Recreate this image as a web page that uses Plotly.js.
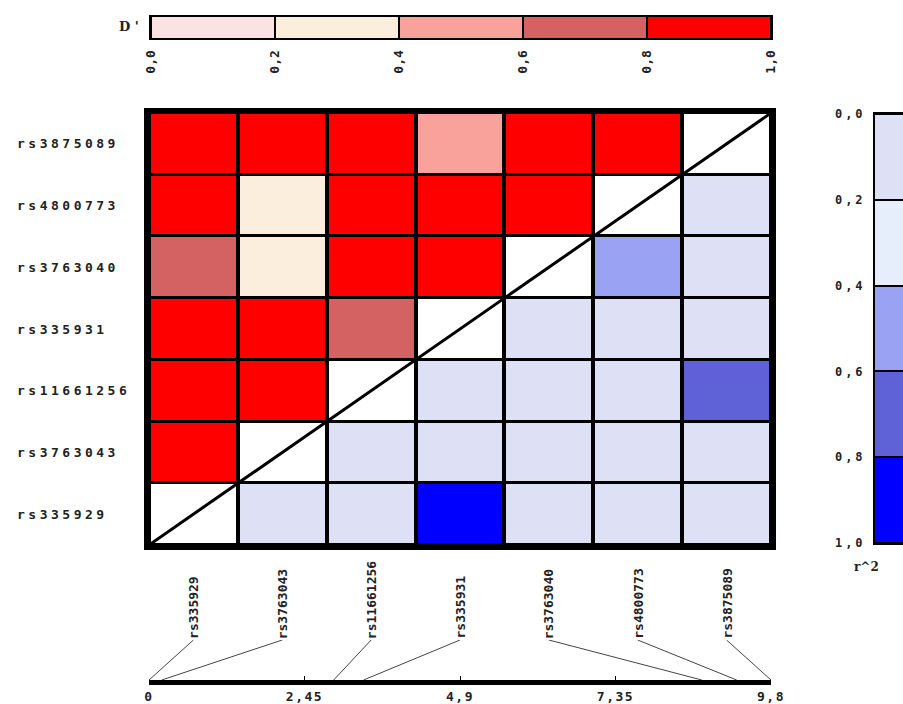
<!DOCTYPE html>
<html><head><meta charset="utf-8">
<script src="https://cdn.plot.ly/plotly-3.0.1.min.js"></script>
<style>html,body{margin:0;padding:0;background:#fff}#chart{width:903px;height:704px}</style>
</head><body><div id="chart"></div>
<script>
// ---- data ----
const markers = ['rs335929','rs3763043','rs11661256','rs335931','rs3763040','rs4800773','rs3875089'];
const positionsKb = [0.0, 0.2, 2.91, 3.38, 8.71, 9.26, 9.8];
// D' : row marker i vs column marker j (j < i)
const dPrime = [
  [],
  [1.0],
  [1.0, 1.0],
  [1.0, 1.0, 0.7],
  [0.7, 0.3, 1.0, 1.0],
  [1.0, 0.3, 1.0, 1.0, 1.0],
  [1.0, 1.0, 1.0, 0.5, 1.0, 1.0]
];
// r^2 : row marker i vs column marker j (j > i), listed from j = i+1
const rSquared = [
  [0.05, 0.05, 0.9, 0.05, 0.05, 0.05],
  [0.05, 0.05, 0.05, 0.05, 0.05],
  [0.05, 0.05, 0.05, 0.7],
  [0.05, 0.05, 0.05],
  [0.5, 0.05],
  [0.05],
  []
];
const legendBins = [0.1, 0.3, 0.5, 0.7, 0.9];
const legendTicks = [0, 0.2, 0.4, 0.6, 0.8, 1.0];
const axisTicks = [0, 2.45, 4.9, 7.35, 9.8];
const dColors = ['#FCE3E3','#FCEEDC','#F9A29B','#D46262','#FF0000'];
const rColors = ['#DEE1F6','#E6EEFB','#9AA2F3','#5F62D6','#0000FF'];

// ---- build ----
function steps(colors){const m=colors.length,cs=[];colors.forEach((c,k)=>{cs.push([k/m,c]);cs.push([(k+1)/m,c]);});return cs;}
const n = markers.length;
const idx = markers.map((_,k)=>k);
const zD = idx.map(i => idx.map(j => j < i ? dPrime[i][j] : null));
const zR = idx.map(i => idx.map(j => j > i ? rSquared[i][j-i-1] : null));
const zDiag = idx.map(i => idx.map(j => j === i ? 1 : null));
const xr = [-0.5, n - 0.5];
const physMax = Math.max(...positionsKb);

const cx = [], cy = [];
idx.forEach(j => {
  const center = (j - xr[0]) / (xr[1] - xr[0]) * physMax;
  cx.push(center, positionsKb[j], null);
  cy.push(1, 0, null);
});

const hm = {type:'heatmap', x:idx, y:idx, zmin:0, zmax:1, showscale:false, xgap:4, ygap:3, hoverinfo:'skip'};
const traces = [
  Object.assign({}, hm, {z:zD, colorscale:steps(dColors)}),
  Object.assign({}, hm, {z:zR, colorscale:steps(rColors)}),
  Object.assign({}, hm, {z:zDiag, colorscale:[[0,'#fff'],[1,'#fff']]}),
  {type:'scatter', mode:'lines', x:xr, y:xr, line:{color:'#000', width:3}, hoverinfo:'skip'},
  {type:'heatmap', xaxis:'x2', yaxis:'y2', x:legendBins, y:[0], z:[legendBins], zmin:0, zmax:1,
   colorscale:steps(dColors), showscale:false, xgap:2, hoverinfo:'skip'},
  {type:'heatmap', xaxis:'x3', yaxis:'y3', x:[0], y:legendBins, z:legendBins.map(v=>[v]), zmin:0, zmax:1,
   colorscale:steps(rColors), showscale:false, ygap:2, hoverinfo:'skip'},
  {type:'scatter', mode:'lines', xaxis:'x4', yaxis:'y4', x:cx, y:cy, connectgaps:false,
   line:{color:'#444', width:1}, hoverinfo:'skip'}
];

const H = 704, W = 903;
const tf = {family:'DejaVu Sans Mono', size:13, color:'#222', weight:'bold'};
const bare = {showgrid:false, zeroline:false, fixedrange:true};
const mainDom = [149/W, 771/W];

const annotations = [];
idx.forEach(i => annotations.push({xref:'paper', x:15/W, xanchor:'left', align:'left', yref:'y', y:i,
  text:markers[i], showarrow:false, font:tf}));
idx.forEach(j => annotations.push({xref:'x', x:j, xanchor:'center', yref:'paper', y:(H-641)/H, yanchor:'bottom',
  textangle:-90, text:markers[j], showarrow:false, font:Object.assign({}, tf, {size:13})}));
annotations.push({xref:'paper', x:129/W, xanchor:'center', yref:'paper', y:(H-27)/H, yanchor:'middle',
  text:"D '", showarrow:false, font:Object.assign({}, tf, {family:'DejaVu Serif', size:13})});
annotations.push({xref:'paper', x:866/W, xanchor:'center', yref:'paper', y:(H-567)/H, yanchor:'middle',
  text:'r^2', showarrow:false, font:Object.assign({}, tf, {family:'DejaVu Serif', size:12})});

const box = (xref, yref) => ({type:'rect', xref:xref+' domain', yref:yref+' domain', x0:0, x1:1, y0:0, y1:1,
  fillcolor:'#000', line:{width:0}, layer:'below'});

const layout = {
  width:W, height:H, margin:{l:0, r:0, t:0, b:0}, paper_bgcolor:'#fff', plot_bgcolor:'#fff',
  separators:', ', showlegend:false, font:tf,
  xaxis:Object.assign({}, bare, {domain:mainDom, range:xr, showticklabels:false, ticks:'',
    showline:true, linewidth:5, linecolor:'#000', mirror:true}),
  yaxis:Object.assign({}, bare, {domain:[(H-545)/H, (H-113)/H], range:xr, showticklabels:false, ticks:'',
    showline:true, linewidth:5, linecolor:'#000', mirror:true}),
  xaxis2:Object.assign({}, bare, {domain:[151/W, 771/W], anchor:'y2', range:[0,1], tickvals:legendTicks,
    tickformat:'.1f', tickangle:-90, ticks:'', ticklabelstandoff:5, showline:true, mirror:true, linewidth:2,
    linecolor:'#000', tickfont:Object.assign({}, tf, {size:13})}),
  yaxis2:Object.assign({}, bare, {domain:[(H-38)/H, (H-17)/H], anchor:'x2', range:[-0.5,0.5],
    showticklabels:false, ticks:'', showline:true, mirror:true, linewidth:2, linecolor:'#000'}),
  xaxis3:Object.assign({}, bare, {domain:[875/W, 1], anchor:'y3', range:[-0.5,0.5], showticklabels:false,
    ticks:'', showline:true, mirror:true, linewidth:2, linecolor:'#000'}),
  yaxis3:Object.assign({}, bare, {domain:[(H-543)/H, (H-114)/H], anchor:'x3', range:[1,0], tickvals:legendTicks,
    tickformat:'.1f', ticks:'', ticklabelstandoff:5, side:'left', showline:true, mirror:true, linewidth:2,
    linecolor:'#000', tickfont:Object.assign({}, tf, {size:12})}),
  xaxis4:Object.assign({}, bare, {domain:mainDom, anchor:'y4', range:[0, physMax], tickvals:axisTicks,
    ticks:'inside', ticklen:4, tickcolor:'#000', ticklabelstandoff:0, showline:true, linewidth:5, linecolor:'#000',
    tickfont:Object.assign({}, tf, {size:13})}),
  yaxis4:Object.assign({}, bare, {domain:[(H-680)/H, (H-640)/H], anchor:'x4', range:[0,1], visible:false}),
  shapes:[box('x','y'), box('x2','y2'), box('x3','y3')],
  annotations:annotations
};

Plotly.newPlot('chart', traces, layout, {staticPlot:true, displayModeBar:false}).then(() => {
  document.querySelectorAll('.annotation').forEach(g => {
    const k = +g.getAttribute('data-index');
    const t = g.querySelector('text');
    if (t && k < n) t.style.letterSpacing = '3.5px';
  });
  document.querySelectorAll('.y3tick text').forEach(t => t.style.letterSpacing = '3px');
  document.querySelectorAll('.x4tick text').forEach(t => t.style.letterSpacing = '1.5px');
});
</script>
</body></html>
